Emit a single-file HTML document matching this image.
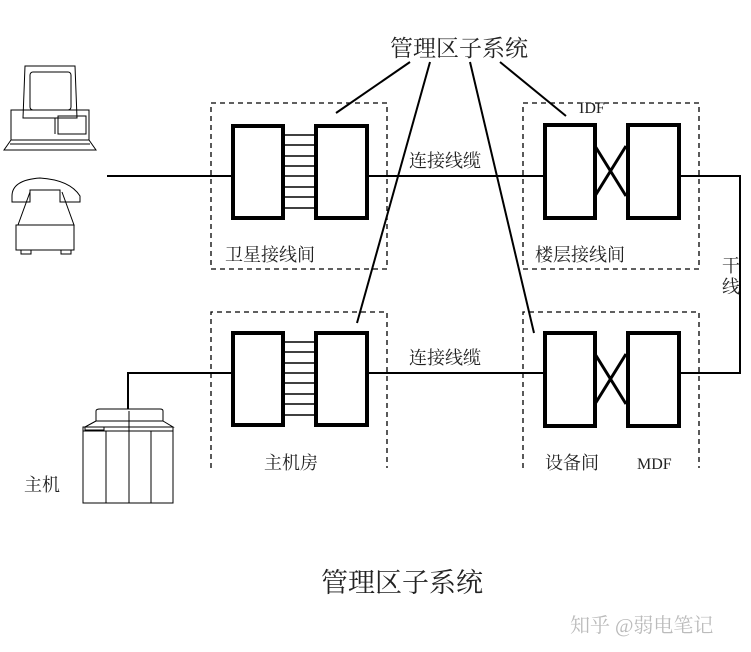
<!DOCTYPE html>
<html><head><meta charset="utf-8"><style>
html,body{margin:0;padding:0;background:#fff;}
svg{display:block;}
text{font-family:"Liberation Serif","Noto Serif CJK SC","Noto Sans CJK SC",serif;fill:#222;}
</style></head><body>
<svg width="751" height="652" viewBox="0 0 751 652" xmlns="http://www.w3.org/2000/svg">
<g fill="none" stroke="#000">
<g stroke-width="1">
<path d="M25 66 L75 66 L77 118 L23 118 Z"/>
<rect x="30" y="72" width="41" height="38" rx="3"/>
<rect x="11" y="110" width="78" height="30"/>
<rect x="58" y="116" width="28" height="18"/>
<line x1="55" y1="118" x2="55" y2="134"/>
<path d="M11 140 L4 150 L96 150 L89 140"/>
<line x1="10" y1="144" x2="90" y2="144"/>
</g>
<g stroke-width="1">
<path d="M12 196 Q12 180 40 178 Q70 180 80 196 L80 202 L60 202 L60 190 L30 190 L30 202 L12 202 Z"/>
<path d="M30 192 L18 225 L74 225 L62 192"/>
<rect x="16" y="225" width="58" height="25"/>
<rect x="21" y="250" width="10" height="4"/>
<rect x="61" y="250" width="10" height="4"/>
</g>
<g stroke-width="1">
<path d="M96 421 L96 411 Q96 409 100 409 L160 409 Q163 409 163 411 L163 421 Z"/>
<path d="M96 421 L85 427 L173 427 L163 421"/>
<rect x="83" y="427" width="90" height="76"/>
<line x1="83" y1="431" x2="173" y2="431"/>
<line x1="106" y1="431" x2="106" y2="503"/>
<line x1="129" y1="411" x2="129" y2="503"/>
<line x1="151" y1="431" x2="151" y2="503"/>
<rect x="85" y="427" width="19" height="3"/>
</g>
<g stroke-width="1.3" stroke-dasharray="5,4">
<rect x="211" y="103" width="176" height="166"/>
<path d="M211 468 L211 312 L387 312 L387 468"/>
<path d="M523 468 L523 312 L699 312 L699 468"/>
<rect x="523" y="103" width="176" height="166"/>
</g>
<g stroke-width="2">
<line x1="107" y1="176" x2="231" y2="176"/>
<line x1="367" y1="176" x2="543" y2="176"/>
<polyline points="680,176 740,176 740,373 680,373"/>
<line x1="367" y1="373" x2="543" y2="373"/>
<polyline points="128,409 128,373 231,373"/>
</g>
<g stroke-width="4">
<rect x="233" y="126" width="50" height="92"/>
<rect x="316" y="126" width="51" height="92"/>
<rect x="233" y="333" width="50" height="92"/>
<rect x="316" y="333" width="51" height="92"/>
<rect x="545" y="125" width="50" height="93"/>
<rect x="628" y="125" width="51" height="93"/>
<rect x="545" y="333" width="50" height="93"/>
<rect x="628" y="333" width="51" height="93"/>
</g>
<g stroke-width="1.5">
<path d="M283 135H316M283 145H316M283 156H316M283 166H316M283 176H316M283 187H316M283 197H316M283 208H316"/>
<path d="M283 342H316M283 352H316M283 363H316M283 373H316M283 383H316M283 394H316M283 404H316M283 415H316"/>
</g>
<g stroke-width="3">
<path d="M595 146 L626 196 M595 196 L626 146"/>
<path d="M595 354 L626 404 M595 404 L626 354"/>
</g>
<g stroke-width="2">
<line x1="410" y1="62" x2="336" y2="113"/>
<line x1="430" y1="62" x2="357" y2="323"/>
<line x1="470" y1="62" x2="534" y2="333"/>
<line x1="500" y1="62" x2="566" y2="116"/>
</g>
</g>
<text x="459" y="56" font-size="23" text-anchor="middle">管理区子系统</text>
<text x="579" y="113" font-size="16">IDF</text>
<text x="409" y="167" font-size="18">连接线缆</text>
<text x="409" y="364" font-size="18">连接线缆</text>
<text x="225" y="261" font-size="18">卫星接线间</text>
<text x="535" y="261" font-size="18">楼层接线间</text>
<text x="264" y="469" font-size="18">主机房</text>
<text x="545" y="469" font-size="18">设备间</text>
<text x="637" y="469" font-size="16">MDF</text>
<text x="722" y="272" font-size="18">干</text>
<text x="722" y="293" font-size="18">线</text>
<text x="24" y="491" font-size="18">主机</text>
<text x="402" y="592" font-size="27" text-anchor="middle">管理区子系统</text>
<text x="570" y="632" font-size="20" style="fill:#bbb" font-family="Liberation Sans,Noto Sans CJK SC,sans-serif">知乎 @弱电笔记</text>
</svg>
</body></html>
